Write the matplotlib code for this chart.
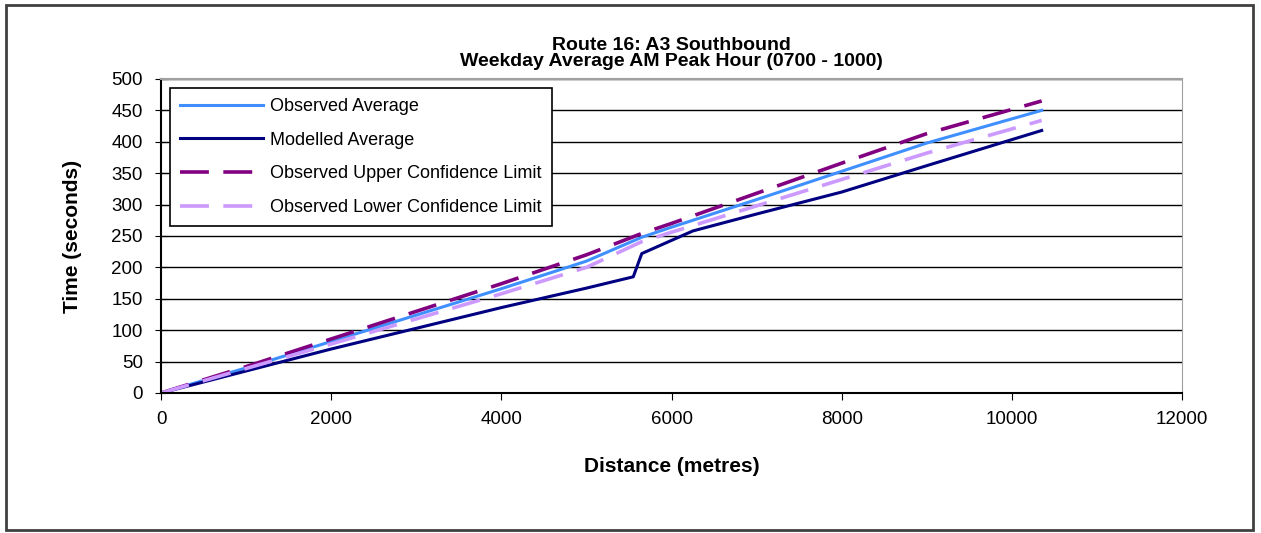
import matplotlib.pyplot as plt
from matplotlib.patches import Rectangle

plt.rcParams['font.family'] = ['Liberation Sans', 'DejaVu Sans']

# distance (m) / time (s)
obs_dist = [0, 1000, 2000, 3000, 4000, 5000, 5650, 6000, 7000, 8000, 9000, 10350]
obs_avg = [0, 40, 82, 124, 166, 210, 248, 264, 308, 353, 398, 450]
obs_upper = [0, 42, 86, 130, 174, 220, 254, 270, 318, 366, 413, 465]
obs_lower = [0, 39, 78, 118, 158, 200, 241, 256, 298, 340, 382, 434]

mod_dist = [0, 1000, 2000, 3000, 4000, 5000, 5550, 5650, 6250, 7000, 8000, 9000, 10350]
mod_avg = [0, 35, 70, 103, 136, 167, 185, 222, 258, 285, 320, 362, 418]

fig = plt.figure(figsize=(12.61, 5.33), dpi=100)
fig.patches.append(Rectangle((0.005, 0.005), 0.989, 0.985, transform=fig.transFigure,
                             fill=False, edgecolor='#404040', linewidth=2))
ax = fig.add_axes([0.1277, 0.2627, 0.8097, 0.5891])

ax.plot(obs_dist, obs_avg, color='#3F8FFF', lw=2.2, label='Observed Average')
ax.plot(mod_dist, mod_avg, color='#000080', lw=2.2, label='Modelled Average')
ax.plot(obs_dist, obs_upper, color='#800080', lw=2.6, dashes=(8, 4), label='Observed Upper Confidence Limit')
ax.plot(obs_dist, obs_lower, color='#CC99FF', lw=2.6, dashes=(8, 4), label='Observed Lower Confidence Limit')

ax.set_xlim(0, 12000)
ax.set_ylim(0, 500)
ax.set_xticks(range(0, 12001, 2000))
ax.set_yticks(range(0, 501, 50))
ax.yaxis.grid(True, color='black', lw=1)
ax.set_axisbelow(True)
ax.tick_params(axis='x', labelsize=13.5, direction='out', length=5, pad=8)
ax.tick_params(axis='y', labelsize=13.5, direction='inout', length=8, pad=9)
ax.spines['right'].set_color('#A0A0A0')
ax.spines['top'].set_color('#A0A0A0')
ax.spines['top'].set_linewidth(1.5)
ax.spines['left'].set_linewidth(1.5)
ax.spines['bottom'].set_linewidth(1.5)

ax.set_xlabel('Distance (metres)', fontsize=15, fontweight='bold', labelpad=21)
ax.set_ylabel('Time (seconds)', fontsize=15, fontweight='bold', labelpad=21)
ax.set_title('Route 16: A3 Southbound\nWeekday Average AM Peak Hour (0700 - 1000)',
             fontsize=14, fontweight='bold', pad=9, linespacing=0.95)

leg = ax.legend(loc='upper left', bbox_to_anchor=(0.009, 0.971), borderaxespad=0,
                fontsize=13, handlelength=4.6, handletextpad=0.4, labelspacing=0.92,
                fancybox=False, framealpha=1, borderpad=0.55)
leg.get_frame().set_edgecolor('black')
leg.get_frame().set_linewidth(1.2)

fig.savefig('out.png', dpi=100)
